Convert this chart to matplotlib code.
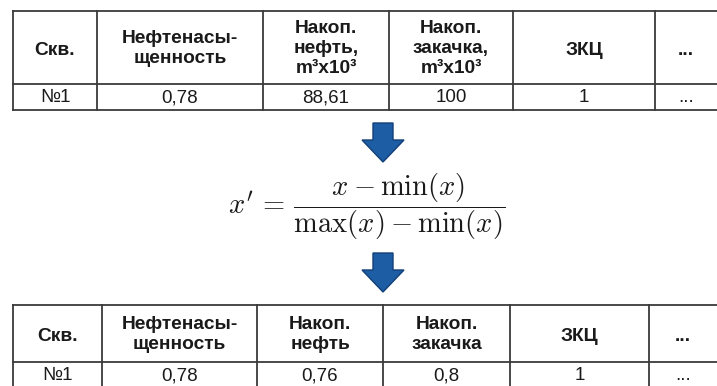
import matplotlib.pyplot as plt
from matplotlib.patches import Polygon

plt.rcParams["font.family"] = ["Liberation Sans", "DejaVu Sans"]
plt.rcParams["mathtext.fontset"] = "cm"

# table contents
top_headers = ["Скв.", "Нефтенасы-\nщенность", "Накоп.\nнефть,\nm³x10³",
               "Накоп.\nзакачка,\nm³x10³", "ЗКЦ", "..."]
top_values = ["№1", "0,78", "88,61", "100", "1", "..."]
bottom_headers = ["Скв.", "Нефтенасы-\nщенность", "Накоп.\nнефть",
                  "Накоп.\nзакачка", "ЗКЦ", "..."]
bottom_values = ["№1", "0,78", "0,76", "0,8", "1", "..."]

formula = r"$x' \,=\, \dfrac{x - \min(x)}{\max(x) - \min(x)}$"

W, H = 717, 386
fig = plt.figure(figsize=(W / 100, H / 100), dpi=100)
ax = fig.add_axes([0, 0, 1, 1])
ax.set_xlim(0, W)
ax.set_ylim(H, 0)
ax.axis("off")

line_col = "#3a3a3a"
text_col = "#1a1a1a"


def draw_table(cols, top, mid, bottom, headers, values):
    for y in (top, mid, bottom):
        ax.plot([cols[0], W], [y, y], color=line_col, lw=1.3)
    for x in cols:
        ax.plot([x, x], [top, bottom], color=line_col, lw=1.3)
    edges = list(cols) + [W]
    for i, (h, v) in enumerate(zip(headers, values)):
        cx = (edges[i] + edges[i + 1]) / 2
        dy = 1 if "\n" in h else 3
        ax.text(cx, (top + mid) / 2 + dy, h, ha="center", va="center",
                fontsize=13.8, fontweight="bold", color=text_col,
                linespacing=1.25)
        ax.text(cx, (mid + bottom) / 2 + 1, v, ha="center", va="center",
                fontsize=13.5, color=text_col)


def draw_arrow(cx, top):
    pts = [(cx - 10, top), (cx + 10, top), (cx + 10, top + 17),
           (cx + 21, top + 17), (cx, top + 39), (cx - 21, top + 17),
           (cx - 10, top + 17)]
    ax.add_patch(Polygon(pts, closed=True, facecolor="#1c5da3",
                         edgecolor="#123f78", lw=1))


draw_table([13, 97, 263, 389, 513, 655], 11, 84, 110,
           top_headers, top_values)
draw_table([13, 102, 257, 383, 510, 649], 305, 362, 388,
           bottom_headers, bottom_values)

draw_arrow(383, 123)
draw_arrow(383, 253)

ax.text(367, 207, formula, ha="center", va="center", fontsize=20.5,
        color=text_col)

fig.savefig("out.png", dpi=100)
